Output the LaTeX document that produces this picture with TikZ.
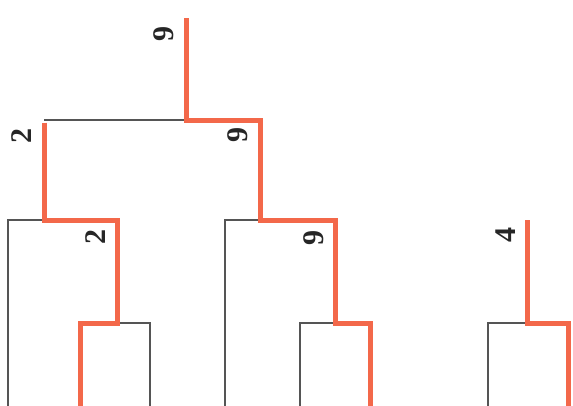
\documentclass[tikz,border=0pt]{standalone}
\usepackage{fontspec}
\setmainfont{Liberation Serif}
\definecolor{redline}{RGB}{243,104,74}
\definecolor{thinline}{RGB}{85,85,85}
\begin{document}
\begin{tikzpicture}[x=1pt,y=-1pt,
  redpath/.style={draw=redline,line width=5pt,line join=miter,line cap=butt},
  thinpath/.style={draw=thinline,line width=1.1pt,line join=miter},
  lab/.style={font=\fontsize{30}{30}\selectfont\bfseries,rotate=90,inner sep=0pt,text=black!85}]
\useasboundingbox (0,0) rectangle (573,405);
% coordinates
\coordinate (root) at (186,18);
\coordinate (j0) at (186,120);
\coordinate (aL) at (44,120);
\coordinate (aR) at (260,120);
\coordinate (bL) at (8,220);
\coordinate (bM) at (44,220);
\coordinate (bR) at (117,220);
\coordinate (cL) at (80,323);
\coordinate (cM) at (117,323);
\coordinate (cR) at (150,323);
\coordinate (dL) at (225,220);
\coordinate (dM) at (260,220);
\coordinate (dR) at (335,220);
\coordinate (eL) at (300,323);
\coordinate (eM) at (335,323);
\coordinate (eR) at (370,323);
\coordinate (fT) at (527,220);
\coordinate (fL) at (488,323);
\coordinate (fM) at (527,323);
\coordinate (fR) at (568,323);
% bottom ends
\coordinate (bLb) at (8,410);
\coordinate (cLb) at (80,410);
\coordinate (cRb) at (150,410);
\coordinate (dLb) at (225,410);
\coordinate (eLb) at (300,410);
\coordinate (eRb) at (370,410);
\coordinate (fLb) at (488,410);
\coordinate (fRb) at (568,410);
% thin lines
\path[thinpath] (aL) -- (j0);
\path[thinpath] (bLb) -- (bL) -- (bM);
\path[thinpath] (cM) -- (cR) -- (cRb);
\path[thinpath] (dLb) -- (dL) -- (dM);
\path[thinpath] (eLb) -- (eL) -- (eM);
\path[thinpath] (fLb) -- (fL) -- (fM);
% red lines
\path[redpath] (root) -- (j0) -- (aR) -- (dM) -- (dR) -- (eM) -- (eR) -- (eRb);
\path[redpath] ([yshift=-2.5pt]aL) -- (bM) -- (bR) -- (cM) -- (cL) -- (cLb);
\path[redpath] (fT) -- (fM) -- (fR) -- (fRb);
% labels
\node[lab] (l1) at (164,34) {9};
\node[lab] (l2) at (22,136) {2};
\node[lab] (l3) at (96,237) {2};
\node[lab] (l4) at (238,135) {9};
\node[lab] (l5) at (314,238) {9};
\node[lab] (l6) at (506,235) {4};
\end{tikzpicture}
\end{document}
